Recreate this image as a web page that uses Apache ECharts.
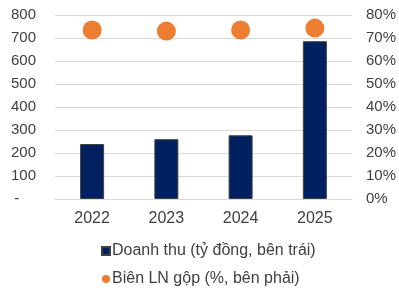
<!DOCTYPE html>
<html>
<head>
<meta charset="utf-8">
<script src="https://cdn.jsdelivr.net/npm/echarts@6/dist/echarts.min.js"></script>
<style>
  html, body { margin: 0; padding: 0; background: #fff; }
  #chart { width: 399px; height: 291px; }
</style>
</head>
<body>
<div id="chart"></div>
<script>
const years = ['2022', '2023', '2024', '2025']
const revenue = [239, 260, 277, 686]
const grossMargin = [0.735, 0.73, 0.735, 0.743]

let myChart = echarts.init(document.getElementById('chart'))
const font = 'Liberation Sans, Arial, sans-serif'
const textColor = '#404040'

myChart.setOption({
  animation: false,
  grid: { left: 55, right: 41, top: 15, bottom: 92 },
  legend: {
    orient: 'vertical',
    left: 101,
    top: 243,
    padding: 0,
    height: 60,
    itemWidth: 8,
    itemHeight: 8,
    itemGap: 12,
    textStyle: { fontFamily: font, fontSize: 16, color: textColor, padding: [0, 0, 0, -3] },
    data: [
      { name: 'Doanh thu (tỷ đồng, bên trái)', icon: 'rect' },
      { name: 'Biên LN gộp (%, bên phải)', icon: 'circle' }
    ]
  },
  xAxis: {
    type: 'category',
    data: years,
    axisTick: { show: false },
    axisLine: { lineStyle: { color: '#d9d9d9' } },
    axisLabel: { fontFamily: font, fontSize: 16, color: textColor, margin: 12 }
  },
  yAxis: [
    {
      type: 'value',
      min: 0,
      max: 800,
      interval: 100,
      splitLine: { lineStyle: { color: '#d9d9d9' } },
      axisLabel: {
        fontFamily: font, fontSize: 15, color: textColor, margin: 19,
        formatter: v => v === 0 ? '-    ' : String(v)
      }
    },
    {
      type: 'value',
      min: 0,
      max: 0.8,
      interval: 0.1,
      splitLine: { show: false },
      axisLabel: {
        fontFamily: font, fontSize: 15, color: textColor, margin: 14,
        formatter: v => Math.round(v * 100) + '%'
      }
    }
  ],
  series: [
    {
      name: 'Doanh thu (tỷ đồng, bên trái)',
      type: 'bar',
      data: revenue,
      barWidth: 24,
      itemStyle: { color: '#002060', borderColor: '#404040', borderWidth: 1 }
    },
    {
      name: 'Biên LN gộp (%, bên phải)',
      type: 'scatter',
      yAxisIndex: 1,
      data: grossMargin,
      symbolSize: 19,
      itemStyle: { color: '#ED7D31', opacity: 1 }
    }
  ]
})
</script>
</body>
</html>
